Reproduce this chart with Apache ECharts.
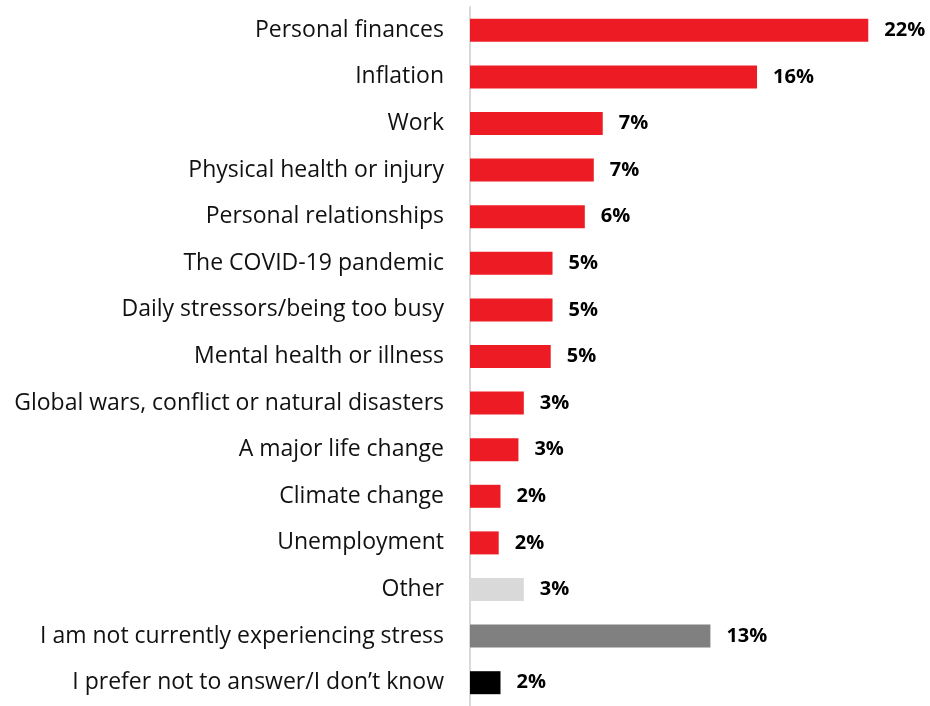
<!DOCTYPE html>
<html>
<head>
<meta charset="utf-8">
<script src="https://cdn.jsdelivr.net/npm/echarts@6/dist/echarts.min.js"></script>
<style>
  html, body { margin: 0; padding: 0; background: #fff; }
  #chart { width: 930px; height: 706px; }
</style>
</head>
<body>
<div id="chart"></div>
<script>
// survey answers, top to bottom
const categories = [
  'Personal finances',
  'Inflation',
  'Work',
  'Physical health or injury',
  'Personal relationships',
  'The COVID-19 pandemic',
  'Daily stressors/being too busy',
  'Mental health or illness',
  'Global wars, conflict or natural disasters',
  'A major life change',
  'Climate change',
  'Unemployment',
  'Other',
  'I am not currently experiencing stress',
  'I prefer not to answer/I don\u2019t know'
]
// share of respondents (%)
const values = [22.2, 16.0, 7.4, 6.9, 6.4, 4.6, 4.6, 4.5, 3.0, 2.7, 1.7, 1.6, 3.0, 13.4, 1.7]
// printed labels
const valueLabels = ['22%', '16%', '7%', '7%', '6%', '5%', '5%', '5%', '3%', '3%', '2%', '2%', '3%', '13%', '2%']

const RED = '#ED1C24'
const barColors = categories.map((c, i) => {
  if (c === 'Other') return '#D9D9D9'
  if (c === 'I am not currently experiencing stress') return '#808080'
  if (i === categories.length - 1) return '#000000'
  return RED
})

const chart = echarts.init(document.getElementById('chart'))

chart.setOption({
  animation: false,
  grid: {
    left: 470,
    top: 7,
    width: 448.5,
    height: 702
  },
  xAxis: {
    type: 'value',
    min: 0,
    max: 25,
    show: false
  },
  yAxis: {
    type: 'category',
    inverse: true,
    data: categories,
    axisLine: { lineStyle: { color: '#D9D9D9', width: 2 } },
    axisTick: { length: 8, lineStyle: { color: '#D9D9D9', width: 2 } },
    axisLabel: {
      margin: 26,
      color: '#111',
      fontFamily: 'Open Sans',
      fontSize: 23,
      padding: [5, 0, 0, 0]
    }
  },
  series: [{
    type: 'bar',
    data: values.map((v, i) => ({ value: v, itemStyle: { color: barColors[i] } })),
    barWidth: 23,
    label: {
      show: true,
      position: 'right',
      distance: 16,
      color: '#000',
      fontFamily: 'Open Sans',
      fontWeight: 'bold',
      fontSize: 20,
      padding: [4, 0, 0, 0],
      formatter: p => valueLabels[p.dataIndex]
    }
  }]
})
</script>
</body>
</html>
